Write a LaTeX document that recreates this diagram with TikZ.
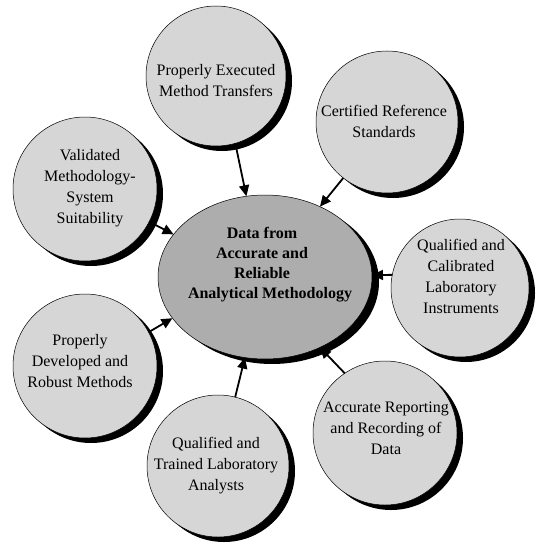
\documentclass[tikz,border=0pt]{standalone}
\usepackage{fontspec}
\setmainfont{Liberation Serif}
\usetikzlibrary{arrows.meta,shadows,shapes.geometric}
\tikzset{
  satcirc/.style n args={1}{circle, draw=black, line width=0.5pt, fill=black!16,
     inner sep=0pt, outer sep=0pt, minimum size=#1,
     drop shadow={shadow xshift=6pt, shadow yshift=-5pt, fill=black, opacity=1}},
  hub/.style={ellipse, draw=black, line width=0.5pt, fill=black!32,
     inner sep=0pt, outer sep=0pt, minimum width=214pt, minimum height=164pt,
     drop shadow={shadow xshift=7pt, shadow yshift=-5pt, fill=black, opacity=1}},
  lbl/.style={align=center, font=\fontsize{16}{21}\selectfont, inner sep=0pt},
  hublbl/.style={align=center, font=\fontsize{16}{20}\selectfont\bfseries, inner sep=0pt},
  feed/.style={line width=1.8pt, -{Triangle[length=11pt,width=10pt]}}
}
\begin{document}
\begin{tikzpicture}[x=1pt,y=-1pt]
\path[use as bounding box] (0,0) rectangle (535,543);
% satellite circles
\node[satcirc=140pt] (mt) at (216,76) {};
\node[satcirc=142pt] (crs) at (387,122) {};
\node[satcirc=144pt] (vm) at (85,189) {};
\node[satcirc=138pt] (qi) at (460,288) {};
\node[satcirc=144pt] (pd) at (85,366) {};
\node[satcirc=144pt] (ar) at (385,433) {};
\node[satcirc=142pt] (qa) at (218,466) {};
% hub
\node[hub] (hub) at (265,277) {};
% labels
\node[lbl] (tmt) at (216,81) {Properly Executed\\Method Transfers};
\node[lbl] (tcrs) at (384,121) {Certified Reference\\Standards};
\node[lbl] (tvm) at (90,188) {Validated\\Methodology-\\System\\Suitability};
\node[lbl] (tqi) at (461,276) {Qualified and\\Calibrated\\Laboratory\\Instruments};
\node[lbl] (tpd) at (80,361) {Properly\\Developed and\\Robust Methods};
\node[lbl] (tar) at (386,428) {Accurate Reporting\\and Recording of\\Data};
\node[lbl] (tqa) at (216,466) {Qualified and\\Trained Laboratory\\Analysts};
\node[hublbl] (thub) at (262,265) {Data from\\Accurate and\\Reliable\\\hspace*{16pt}Analytical Methodology};
% connectors
\draw[feed] (mt.-74) -- (hub.103);
\draw[feed] (crs.-128) -- (hub.52);
\draw[feed] (vm.-27) -- (hub.155);
\draw[feed] (qi.169) -- (hub.1);
\draw[feed] (pd.28) -- (hub.204);
\draw[feed] (ar.124) -- (hub.-52);
\draw[feed] (qa.76) -- (hub.-104);
\end{tikzpicture}
\end{document}
